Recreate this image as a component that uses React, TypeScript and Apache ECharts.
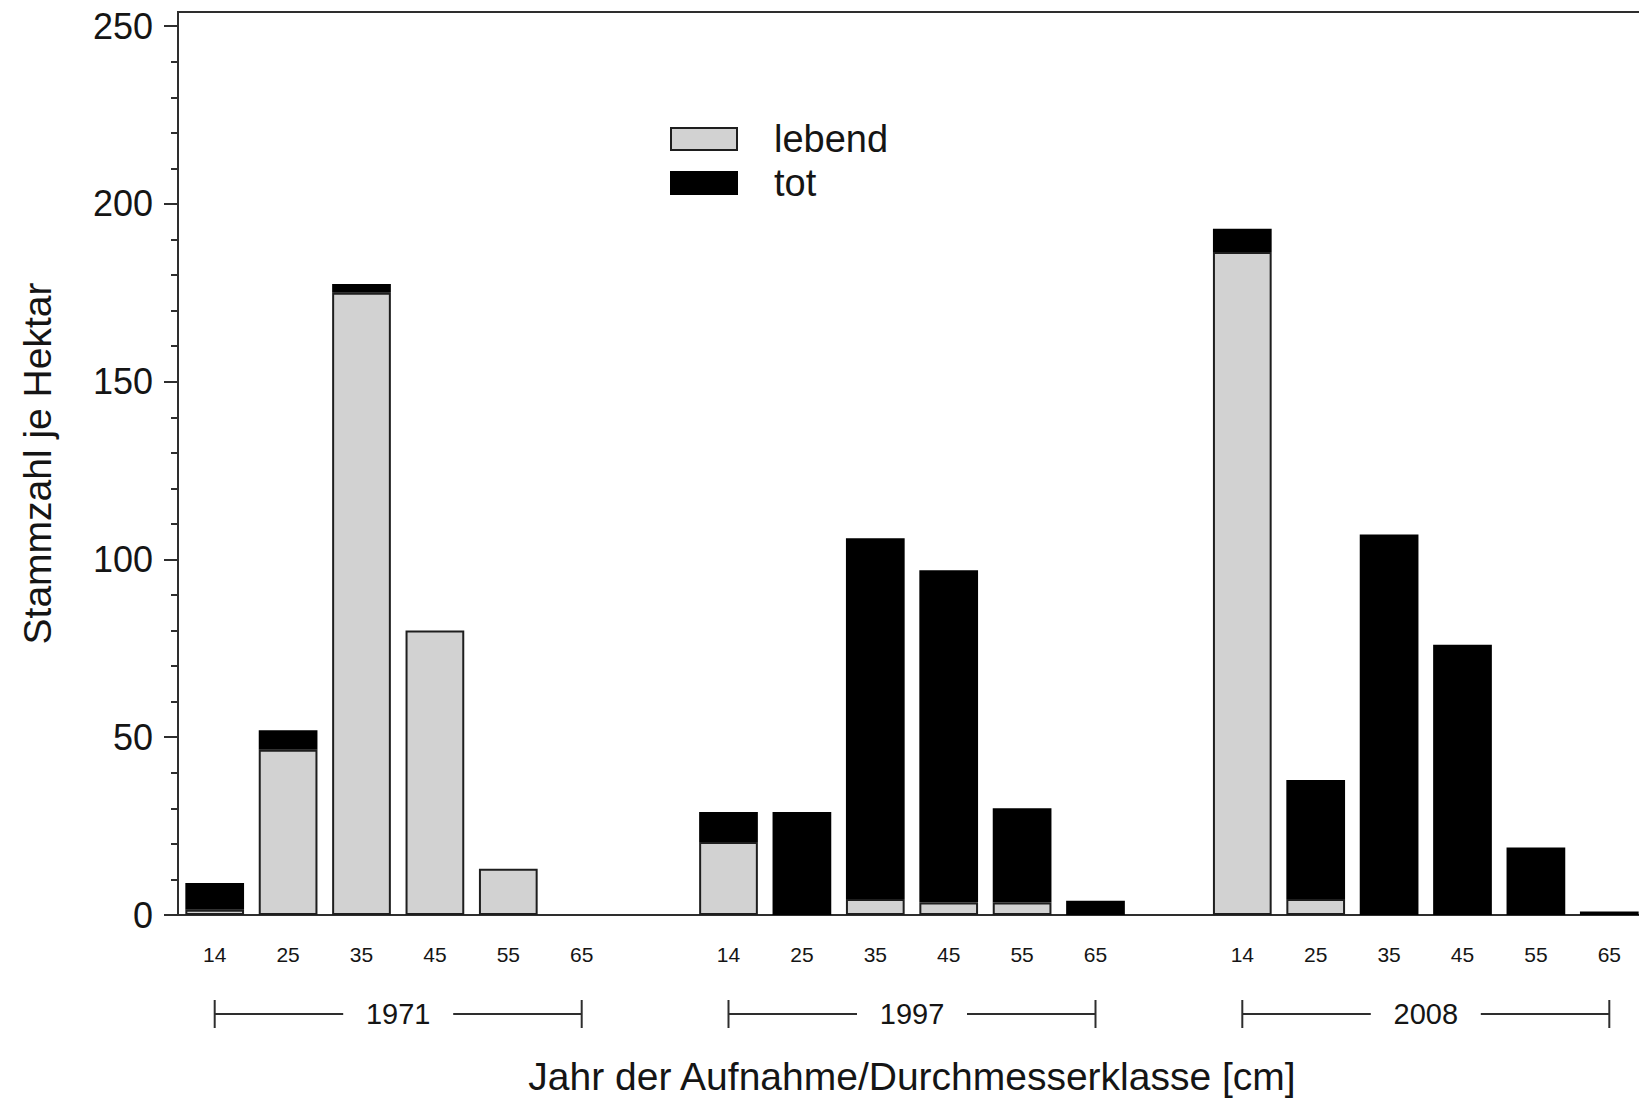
import React, { useEffect, useRef } from "react";
import * as echarts from "echarts";

// Diameter classes [cm] shown under every survey block
const diameterClasses = ["14", "25", "35", "45", "55", "65"];
// Survey years, one block of diameter classes each
const surveyYears = ["1971", "1997", "2008"];

// Stems per hectare, one entry per slot (null = spacer slot between surveys)
const lebend = [1.5, 46.5, 175, 80, 13, 0, null, 20.5, 0, 4.5, 3.5, 3.5, 0, null, 186.5, 4.5, 0, 0, 0, 0];
const tot = [7.5, 5.5, 2.5, 0, 0, 0, null, 8.5, 29, 101.5, 93.5, 26.5, 4, null, 6.5, 33.5, 107, 76, 19, 1];

// Labelled y values and the axis ceiling
const yLabelValues = [0, 50, 100, 150, 200, 250];
const yMax = 254;

const FONT = "'Liberation Sans', Arial, Helvetica, sans-serif";
const INK = "#151515";
const LINE = "#2e2e2e";

// Category slots: each survey's classes, separated by one empty slot
const categories: string[] = surveyYears.flatMap((_, i) =>
  i === 0 ? diameterClasses : ["", ...diameterClasses]
);
// First and last slot index of every survey block
const yearSpans = surveyYears.map((_, i) => {
  const start = i * (diameterClasses.length + 1);
  return [start, start + diameterClasses.length - 1, 0];
});

// Empty classes get no bar segment at all
const segment = (v: number | null) => (v === 0 ? null : v);

export default function App() {
  const ref = useRef<HTMLDivElement>(null);

  useEffect(() => {
    if (!ref.current) return;
    const chart = echarts.init(ref.current, undefined, { renderer: "svg" });

    chart.setOption({
      animation: false,
      backgroundColor: "#ffffff",
      textStyle: { fontFamily: FONT },
      grid: {
        left: 178,
        right: 14,
        top: 12,
        bottom: 186,
        show: true,
        borderColor: LINE,
        borderWidth: 2,
        backgroundColor: "transparent",
        outerBoundsMode: "none",
      },
      legend: {
        data: [
          { name: "lebend", icon: "rect" },
          { name: "tot", icon: "rect" },
        ],
        orient: "vertical",
        left: 670,
        top: 120,
        padding: 0,
        itemWidth: 66,
        itemHeight: 22,
        itemGap: 6,
        selectedMode: false,
        textStyle: {
          fontFamily: FONT,
          fontSize: 38,
          lineHeight: 38,
          color: INK,
          padding: [0, 0, 0, 32],
        },
      },
      xAxis: {
        type: "category",
        data: categories,
        boundaryGap: true,
        name: "Jahr der Aufnahme/Durchmesserklasse [cm]",
        nameLocation: "middle",
        nameGap: 142,
        nameTextStyle: { fontFamily: FONT, fontSize: 39, color: INK },
        axisLine: { show: true, lineStyle: { color: LINE, width: 2 } },
        axisTick: { show: false },
        axisLabel: {
          interval: 0,
          margin: 29,
          fontFamily: FONT,
          fontSize: 21,
          color: INK,
        },
        splitLine: { show: false },
      },
      yAxis: {
        type: "value",
        min: 0,
        max: yMax,
        interval: 50,
        name: "Stammzahl je Hektar",
        nameLocation: "middle",
        nameGap: 121,
        nameTextStyle: { fontFamily: FONT, fontSize: 39, color: INK },
        axisLine: { show: true, lineStyle: { color: LINE, width: 2 } },
        axisTick: {
          show: true,
          inside: false,
          length: 14,
          customValues: yLabelValues,
          lineStyle: { color: LINE, width: 2 },
        },
        minorTick: {
          show: true,
          splitNumber: 5,
          length: 7,
          lineStyle: { color: LINE, width: 2 },
        },
        axisLabel: {
          customValues: yLabelValues,
          margin: 25,
          fontFamily: FONT,
          fontSize: 36,
          color: INK,
        },
        splitLine: { show: false },
        minorSplitLine: { show: false },
      },
      series: [
        {
          name: "lebend",
          type: "bar",
          stack: "stems",
          data: lebend.map(segment),
          barCategoryGap: "20%",
          itemStyle: { color: "#d2d2d2", borderColor: "#1e1e1e", borderWidth: 2 },
        },
        {
          name: "tot",
          type: "bar",
          stack: "stems",
          data: tot.map(segment),
          barCategoryGap: "20%",
          itemStyle: { color: "#000000", borderColor: "#000000", borderWidth: 2 },
        },
        {
          // Year brackets spanning each survey's diameter classes
          type: "custom",
          data: yearSpans,
          encode: { x: [0, 1], y: 2 },
          clip: false,
          silent: true,
          renderItem: (params: any, api: any) => {
            const p0 = api.coord([api.value(0), 0]);
            const p1 = api.coord([api.value(1), 0]);
            const y = p0[1] + 99;
            const cx = (p0[0] + p1[0]) / 2;
            const half = 55;
            const stroke = { stroke: LINE, lineWidth: 2 };
            return {
              type: "group",
              children: [
                { type: "line", shape: { x1: p0[0], y1: y, x2: cx - half, y2: y }, style: stroke },
                { type: "line", shape: { x1: cx + half, y1: y, x2: p1[0], y2: y }, style: stroke },
                { type: "line", shape: { x1: p0[0], y1: y - 14, x2: p0[0], y2: y + 14 }, style: stroke },
                { type: "line", shape: { x1: p1[0], y1: y - 14, x2: p1[0], y2: y + 14 }, style: stroke },
                {
                  type: "text",
                  x: cx,
                  y,
                  style: {
                    text: surveyYears[params.dataIndex],
                    fontFamily: FONT,
                    fontSize: 29,
                    fill: INK,
                    align: "center",
                    verticalAlign: "middle",
                  },
                },
              ],
            };
          },
        },
      ],
    });

    return () => {
      chart.dispose();
    };
  }, []);

  return (
    <div
      style={{
        position: "fixed",
        left: 0,
        top: 0,
        width: 1639,
        height: 1101,
        overflow: "hidden",
        background: "#ffffff",
      }}
    >
      <div ref={ref} style={{ width: 1660, height: 1101 }} />
    </div>
  );
}
